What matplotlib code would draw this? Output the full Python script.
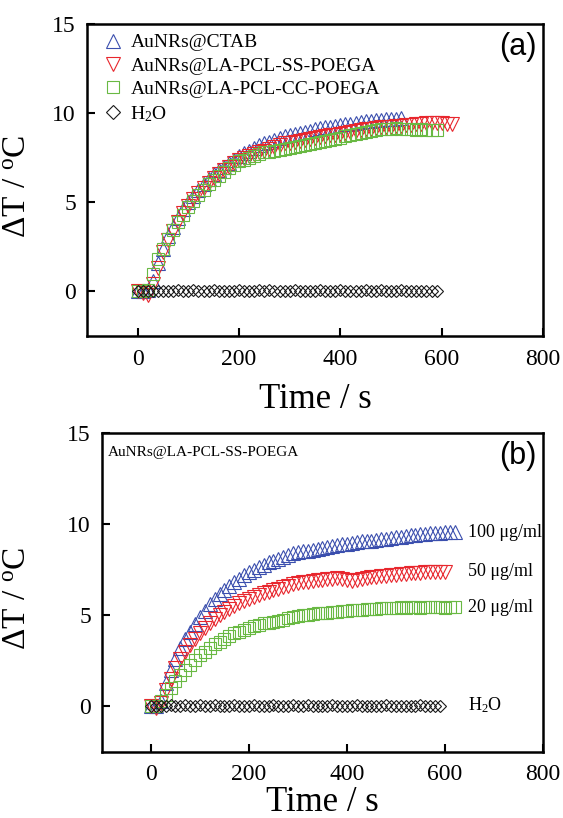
### Photothermal heating curves of AuNRs dispersions (two panels)

import matplotlib
matplotlib.use('Agg')
import matplotlib.pyplot as plt

plt.rcParams['font.family'] = ['Liberation Serif', 'DejaVu Serif']
plt.rcParams['mathtext.fontset'] = 'custom'
plt.rcParams['mathtext.rm'] = 'Liberation Serif'
plt.rcParams['mathtext.it'] = 'Liberation Serif:italic'

# sampling times (s), every 10 s
times = [0, 10, 20, 30, 40, 50, 60, 70, 80, 90,
         100, 110, 120, 130, 140, 150, 160, 170, 180, 190,
         200, 210, 220, 230, 240, 250, 260, 270, 280, 290,
         300, 310, 320, 330, 340, 350, 360, 370, 380, 390,
         400, 410, 420, 430, 440, 450, 460, 470, 480, 490,
         500, 510, 520, 530, 540, 550, 560, 570, 580, 590,
         600, 610, 620]

# ---- panel (a): different coatings ----
a_ctab = [0, 0, 0.1, 0.6, 1.6, 2.4, 3.1, 3.6, 4.1, 4.6,
          5.0, 5.35, 5.7, 6.0, 6.3, 6.6, 6.8, 7.0, 7.2, 7.4,
          7.6, 7.75, 7.9, 8.05, 8.2, 8.3, 8.4, 8.5, 8.6, 8.7,
          8.8, 8.85, 8.9, 8.95, 9.0, 9.1, 9.15, 9.2, 9.25, 9.3,
          9.35, 9.4, 9.4, 9.45, 9.5, 9.55, 9.55, 9.6, 9.6, 9.65,
          9.7, 9.7, 9.75]
a_ss = [0, -0.1, -0.2, 0.4, 1.3, 2.2, 2.9, 3.4, 3.9, 4.4,
        4.8, 5.2, 5.5, 5.8, 6.1, 6.35, 6.6, 6.8, 7.0, 7.2,
        7.35, 7.5, 7.6, 7.7, 7.8, 7.9, 8.0, 8.1, 8.2, 8.3,
        8.35, 8.4, 8.45, 8.5, 8.55, 8.6, 8.65, 8.7, 8.75, 8.8,
        8.85, 8.9, 8.95, 9.0, 9.05, 9.1, 9.1, 9.15, 9.2, 9.25,
        9.25, 9.3, 9.3, 9.35, 9.35, 9.4, 9.4, 9.45, 9.45, 9.45,
        9.45, 9.4, 9.4]
a_cc = [0, 0, 0.1, 1.0, 1.8, 2.4, 2.95, 3.45, 3.9, 4.3,
        4.75, 5.1, 5.4, 5.7, 6.0, 6.25, 6.5, 6.7, 6.9, 7.1,
        7.3, 7.4, 7.5, 7.6, 7.7, 7.8, 7.85, 7.9, 7.95, 8.0,
        8.05, 8.1, 8.15, 8.2, 8.25, 8.3, 8.4, 8.45, 8.5, 8.55,
        8.6, 8.7, 8.75, 8.85, 8.9, 8.95, 9.0, 9.05, 9.1, 9.1,
        9.1, 9.15, 9.1, 9.1, 9.1, 9.05, 9.1, 9.05, 9.05, 9.05]
a_h2o = [0, 0.05, 0, 0, 0.05, 0, 0.05, 0.05, 0.1, 0.05,
         0.05, 0.1, 0.05, 0.05, 0.05, 0.1, 0.05, 0.05, 0.05, 0.05,
         0.1, 0.05, 0.05, 0.05, 0.1, 0.05, 0.1, 0.05, 0.05, 0.05,
         0.05, 0.1, 0.05, 0.05, 0.05, 0.05, 0.1, 0.05, 0.05, 0.05,
         0.1, 0.05, 0.05, 0.05, 0.05, 0.1, 0.05, 0.05, 0.1, 0.05,
         0.05, 0.05, 0.1, 0.05, 0.05, 0.05, 0.05, 0.05, 0.05, 0.05]

# ---- panel (b): AuNRs@LA-PCL-SS-POEGA at different concentrations ----
b_100 = [0, 0, 0.3, 1.3, 2.0, 2.6, 3.2, 3.7, 4.1, 4.5,
         4.9, 5.25, 5.6, 5.9, 6.15, 6.4, 6.6, 6.8, 7.0, 7.2,
         7.35, 7.5, 7.65, 7.75, 7.9, 8.0, 8.1, 8.2, 8.3, 8.4,
         8.45, 8.5, 8.55, 8.6, 8.65, 8.7, 8.75, 8.8, 8.85, 8.9,
         8.9, 8.95, 9.0, 9.05, 9.1, 9.1, 9.15, 9.2, 9.2, 9.25,
         9.3, 9.3, 9.35, 9.4, 9.4, 9.45, 9.45, 9.5, 9.5, 9.5,
         9.55, 9.55, 9.55]
b_50 = [0, -0.1, 0.2, 0.9, 1.5, 2.1, 2.6, 3.0, 3.35, 3.7,
        4.0, 4.3, 4.55, 4.8, 5.0, 5.2, 5.35, 5.5, 5.65, 5.8,
        5.9, 6.0, 6.1, 6.2, 6.3, 6.4, 6.45, 6.55, 6.6, 6.7,
        6.75, 6.8, 6.85, 6.9, 6.95, 6.95, 7.0, 7.0, 7.05, 7.0,
        6.95, 6.9, 6.95, 7.0, 7.05, 7.1, 7.1, 7.15, 7.15, 7.2,
        7.2, 7.25, 7.25, 7.3, 7.3, 7.3, 7.35, 7.35, 7.35, 7.4,
        7.4]
b_20 = [0, 0, 0.3, 0.6, 1.0, 1.4, 1.7, 2.0, 2.25, 2.55,
        2.8, 3.0, 3.2, 3.4, 3.55, 3.7, 3.85, 4.0, 4.1, 4.2,
        4.3, 4.4, 4.45, 4.55, 4.6, 4.65, 4.7, 4.75, 4.85, 4.9,
        4.95, 5.0, 5.0, 5.05, 5.1, 5.1, 5.15, 5.2, 5.2, 5.25,
        5.25, 5.3, 5.3, 5.3, 5.35, 5.35, 5.35, 5.4, 5.4, 5.4,
        5.4, 5.45, 5.4, 5.45, 5.45, 5.4, 5.45, 5.45, 5.45, 5.45,
        5.4, 5.45, 5.45]
b_h2o = [0, 0.05, 0.05, 0.05, 0.1, 0.05, 0.05, 0.1, 0.05, 0.05,
         0.1, 0.05, 0.05, 0.1, 0.05, 0.05, 0.05, 0.1, 0.05, 0.05,
         0.05, 0.1, 0.05, 0.05, 0.05, 0.1, 0.05, 0.05, 0.05, 0.1,
         0.05, 0.05, 0.1, 0.05, 0.05, 0.05, 0.05, 0.1, 0.05, 0.05,
         0.05, 0.05, 0.1, 0.05, 0.05, 0.05, 0.05, 0.05, 0.1, 0.05,
         0.05, 0.05, 0.05, 0.05, 0.05, 0.1, 0.05, 0.05, 0.05, 0.05]

conc_labels = ['100 μg/ml', '50 μg/ml', '20 μg/ml', 'H$_2$O']
legend_a = ['AuNRs@CTAB', 'AuNRs@LA-PCL-SS-POEGA', 'AuNRs@LA-PCL-CC-POEGA', 'H$_2$O']

BLUE = '#3b4fae'
RED = '#e8262d'
GREEN = '#69b943'
BLACK = '#1a1a1a'


def style_axes(ax, ylab_x):
    ax.set_xlim(-100, 800)
    ax.set_ylim(-2.5, 15)
    ax.set_xticks([0, 200, 400, 600, 800])
    ax.set_yticks([0, 5, 10, 15])
    ax.tick_params(direction='in', length=6, width=1.5, labelsize=17,
                   top=False, right=False)
    ax.tick_params(axis='x', pad=9)
    ax.tick_params(axis='y', pad=8)
    for sp in ax.spines.values():
        sp.set_linewidth(1.8)
    ax.set_xlabel('Time / s', fontsize=25)
    ax.set_ylabel('ΔT / $^{\\mathrm{o}}$C', fontsize=24)
    ax.yaxis.set_label_coords(ylab_x, 0.48)


def mk(ax, y, marker, color, ms, label=None):
    ax.plot(times[:len(y)], y, linestyle='none', marker=marker, markersize=ms,
            markerfacecolor='none', markeredgecolor=color, markeredgewidth=0.8,
            label=label)


fig = plt.figure(figsize=(5.63, 8.18), dpi=100)

# panel (a)
ax1 = fig.add_axes([0.1545, 0.5892, 0.81, 0.3814])
mk(ax1, a_ctab, '^', BLUE, 9.5, legend_a[0])
mk(ax1, a_ss, 'v', RED, 9.5, legend_a[1])
mk(ax1, a_cc, 's', GREEN, 8.5, legend_a[2])
mk(ax1, a_h2o, 'D', BLACK, 6.5, legend_a[3])
style_axes(ax1, -0.118)
ax1.xaxis.set_label_coords(0.5, -0.15)
leg = ax1.legend(loc='upper left', frameon=False, fontsize=14,
                 handletextpad=0.3, labelspacing=0.3, borderaxespad=0.1,
                 handlelength=1.2, markerscale=1.1, bbox_to_anchor=(0.01, 1.0))
ax1.text(0.985, 0.975, '(a)', transform=ax1.transAxes, ha='right', va='top',
         fontsize=22, family='Liberation Sans')

# panel (b)
ax2 = fig.add_axes([0.1812, 0.0807, 0.783, 0.39])
mk(ax2, b_100, '^', BLUE, 9.5)
mk(ax2, b_50, 'v', RED, 9.5)
mk(ax2, b_20, 's', GREEN, 8.5)
mk(ax2, b_h2o, 'D', BLACK, 6.5)
style_axes(ax2, -0.156)
ax2.xaxis.set_label_coords(0.5, -0.108)
ax2.text(0.014, 0.94, 'AuNRs@LA-PCL-SS-POEGA', transform=ax2.transAxes,
         ha='left', va='center', fontsize=11)
ax2.text(0.985, 0.975, '(b)', transform=ax2.transAxes, ha='right', va='top',
         fontsize=22, family='Liberation Sans')
label_y = [b_100[-1], b_50[-1], b_20[-1], b_h2o[-1]]
for lab, yv in zip(conc_labels, label_y):
    ax2.text(648, yv, lab, ha='left', va='center', fontsize=13)

fig.savefig('out.png', dpi=100)
